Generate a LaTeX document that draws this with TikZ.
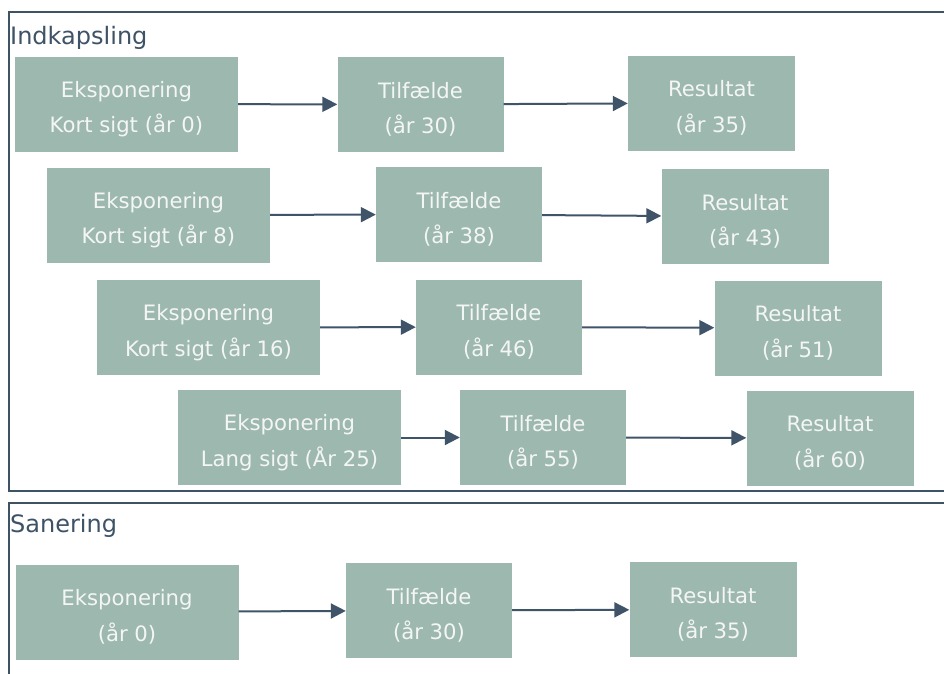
\documentclass[tikz,border=0pt]{standalone}
\usepackage{fontspec}
\setmainfont{DejaVu Sans}
\usetikzlibrary{arrows.meta}
\definecolor{boxfill}{HTML}{9DB8AE}
\definecolor{boxtext}{HTML}{F4F6F5}
\definecolor{framecol}{HTML}{3E5366}
\definecolor{arrowcol}{HTML}{3F5468}
% taller first line so the two text lines sit a little below the box centre
\newcommand{\firstline}{\rule{0pt}{26pt}}
\tikzset{
  stagebox/.style={fill=boxfill, text=boxtext, align=center, inner sep=0pt,
    font=\fontsize{21.2}{35.5}\selectfont, minimum height=95pt},
  expbox/.style={stagebox, minimum width=223pt},
  casebox/.style={stagebox, minimum width=166pt},
  resbox/.style={stagebox, minimum width=167pt},
  frame/.style={draw=framecol, line width=2pt},
  grouptitle/.style={anchor=west, text=framecol, inner sep=0pt,
    font=\fontsize{24}{28}\selectfont},
  flow/.style={draw=arrowcol, line width=2pt,
    -{Triangle[length=15pt,width=15pt]}},
}
\begin{document}
\begin{tikzpicture}[x=1pt,y=-1pt]
\useasboundingbox (0,0) rectangle (944,673);
\clip (0,0) rectangle (944,673);
\fill[white] (0,0) rectangle (944,673);

% group frames
\draw[frame] (9,12) rectangle (970,491);
\draw[frame] (9,503) rectangle (970,700);
\node[grouptitle] (t1) at (10,38) {Indkapsling};
\node[grouptitle] (t2) at (10,526) {Sanering};

% Indkapsling rows
\node[expbox]  (e1) at (126.5,104)   {\firstline Eksponering\\Kort sigt (år 0)};
\node[casebox] (c1) at (420.5,104.5) {\firstline Tilfælde\\(år 30)};
\node[resbox]  (r1) at (711.5,103)   {\firstline Resultat\\(år 35)};

\node[expbox]  (e2) at (158.5,215)   {\firstline Eksponering\\Kort sigt (år 8)};
\node[casebox] (c2) at (459,214.5)   {\firstline Tilfælde\\(år 38)};
\node[resbox]  (r2) at (745,216.5)   {\firstline Resultat\\(år 43)};

\node[expbox]  (e3) at (208.5,327.5) {\firstline Eksponering\\Kort sigt (år 16)};
\node[casebox] (c3) at (499,327)     {\firstline Tilfælde\\(år 46)};
\node[resbox]  (r3) at (798,328)     {\firstline Resultat\\(år 51)};

\node[expbox]  (e4) at (289.5,437.5) {\firstline Eksponering\\Lang sigt (År 25)};
\node[casebox] (c4) at (543,437.5)   {\firstline Tilfælde\\(år 55)};
\node[resbox]  (r4) at (830,438)     {\firstline Resultat\\(år 60)};

% Sanering row
\node[expbox]  (e5) at (127,612)     {\firstline Eksponering\\(år 0)};
\node[casebox] (c5) at (429,610.5)   {\firstline Tilfælde\\(år 30)};
\node[resbox]  (r5) at (713,609.5)   {\firstline Resultat\\(år 35)};

% connectors
\foreach \i in {1,...,5}{
  \draw[flow] (e\i) -- (c\i);
  \draw[flow] (c\i) -- (r\i);
}
\end{tikzpicture}
\end{document}
